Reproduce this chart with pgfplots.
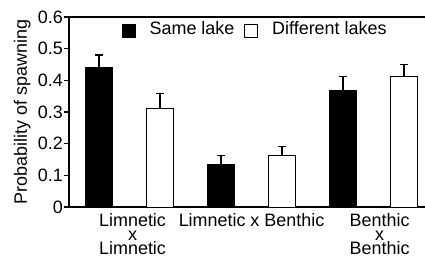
\documentclass[border=0pt]{standalone}
\usepackage{fontspec}
\setmainfont{Liberation Sans}
\usepackage{pgfplots}
\pgfplotsset{compat=1.18}
\newcommand{\chartfont}{\fontsize{18}{14}\selectfont}
\begin{document}
\chartfont
\begin{tikzpicture}
\begin{axis}[
  scale only axis, width=356bp, height=190bp,
  xmin=0.508, xmax=6.344, ymin=0, ymax=0.6,
  axis x line*=box, axis y line*=left,
  axis line style={line width=1.2bp},
  xtick={1.55,3.5,5.6},
  xticklabels={{Limnetic\\x\\Limnetic},{Limnetic x Benthic},{Benthic\\x\\Benthic}},
  xticklabel style={align=center, anchor=north, font=\chartfont, inner sep=1bp},
  x tick style={draw=none},
  ytick={0,0.1,0.2,0.3,0.4,0.5,0.6},
  yticklabel style={/pgf/number format/fixed, /pgf/number format/precision=1, /pgf/number format/assume math mode=true},
  yticklabel style={font=\chartfont, inner sep=1bp},
  tick align=outside,
  major tick length=5bp,
  y tick style={line width=1.2bp, black},
  ylabel={Probability of spawning},
  ylabel style={font=\chartfont, inner sep=6bp},
  legend style={at={(0.148,0.975)}, anchor=north west, draw=none, fill=none,
    legend columns=2, font=\chartfont,
    /tikz/every odd column/.append style={column sep=14bp},
    /tikz/every even column/.append style={column sep=10bp},
    inner sep=0pt, nodes={inner sep=0pt}},
  legend image code/.code={\draw[#1, line width=0.8bp] (0bp,-7.3bp) rectangle (13bp,5.7bp);},
]
\addplot[ybar, bar shift=0pt, bar width=0.44, fill=black, draw=black,
  error bars/.cd, y dir=plus, y explicit,
  error bar style={line width=1.1bp, black},
  error mark options={rotate=90, mark size=3.7bp, line width=1.1bp, black}]
  coordinates {(1,0.44) +- (0,0.04) (3,0.134) +- (0,0.03) (5,0.368) +- (0,0.043)};
\addlegendentry{Same lake}
\addplot[ybar, bar shift=0pt, bar width=0.44, fill=white, draw=black, line width=0.9bp,
  error bars/.cd, y dir=plus, y explicit,
  error bar style={line width=1.1bp, black},
  error mark options={rotate=90, mark size=3.7bp, line width=1.1bp, black}]
  coordinates {(2,0.31) +- (0,0.048) (4,0.162) +- (0,0.03) (6,0.413) +- (0,0.038)};
\addlegendentry{Different lakes}
\end{axis}
\pgfresetboundingbox
\path ([xshift=-69bp,yshift=-51bp]current axis.south west) rectangle ([yshift=17bp]current axis.north east);
\end{tikzpicture}
\end{document}
